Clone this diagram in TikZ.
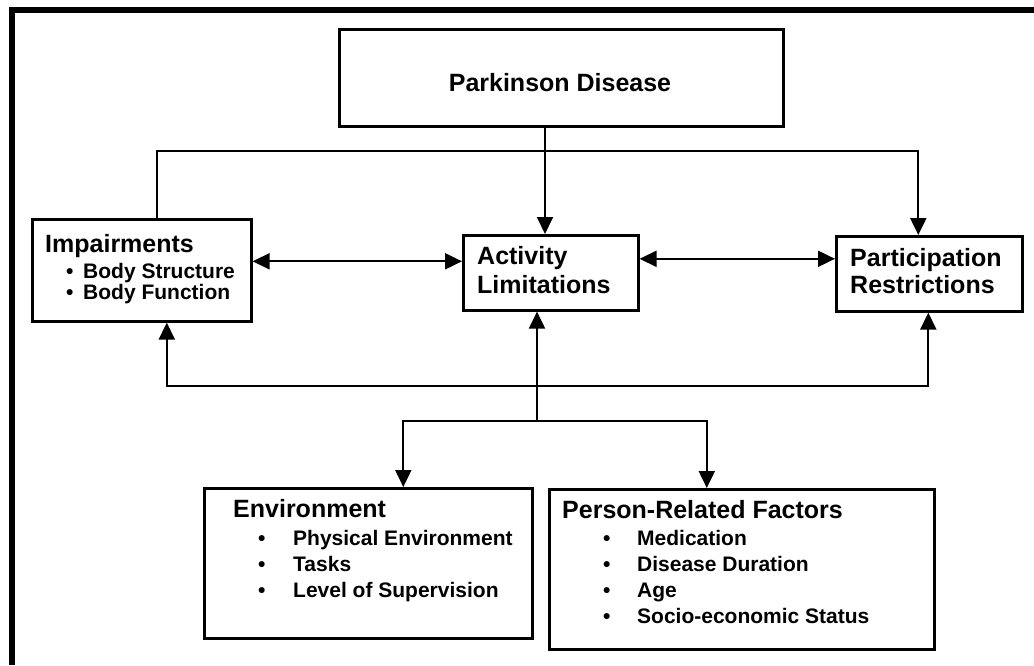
\documentclass[tikz,border=0pt]{standalone}
\usepackage{fontspec}
\setmainfont{Liberation Sans}
\usetikzlibrary{arrows.meta}

\begin{document}
\begin{tikzpicture}[x=1pt,y=-1pt]
    \tikzstyle{box}=[draw, line width=2.6pt, inner sep=0pt, anchor=north west]
    \tikzstyle{hd}=[font=\fontsize{25}{28}\selectfont\bfseries, inner sep=0pt, anchor=base west]
    \tikzstyle{itm}=[font=\fontsize{21}{24}\selectfont\bfseries, inner sep=0pt, anchor=base west]
    \tikzstyle{link}=[line width=2pt]
    \tikzstyle{arr}=[link, -{Triangle[length=17pt,width=16pt]}]
    \tikzstyle{darr}=[link, {Triangle[length=17pt,width=16pt]}-{Triangle[length=17pt,width=16pt]}]
    \useasboundingbox (0,0) rectangle (1034,665);
    % frame
    \draw[line width=6pt] (12,665) -- (12,10) -- (1034,10);
    % boxes
    \node[box, minimum width=444pt, minimum height=97pt] (pd) at (338,28) {};
    \node[box, minimum width=219pt, minimum height=102pt] (im) at (31,218) {};
    \node[box, minimum width=175pt, minimum height=75pt] (al) at (462,234) {};
    \node[box, minimum width=186pt, minimum height=75pt] (pr) at (835,235) {};
    \node[box, minimum width=328pt, minimum height=150pt] (env) at (203,487) {};
    \node[box, minimum width=385pt, minimum height=160pt] (pe) at (548,488) {};
    % texts
    \node[hd, anchor=base] (pdt) at (560,91) {Parkinson Disease};
    \node[hd] (imt) at (45,252) {Impairments};
    \node[itm] (im1) at (66,278) {\makebox[17pt][l]{\textbullet}Body Structure};
    \node[itm] (im2) at (66,299) {\makebox[17pt][l]{\textbullet}Body Function};
    \node[hd] (alt1) at (477,264) {Activity};
    \node[hd] (alt2) at (477,293) {Limitations};
    \node[hd] (prt1) at (850,266) {Participation};
    \node[hd] (prt2) at (850,293) {Restrictions};
    \node[hd] (envt) at (233,517) {Environment};
    \node[itm] (env1) at (258,545) {\makebox[35pt][l]{\textbullet}Physical Environment};
    \node[itm] (env2) at (258,571) {\makebox[35pt][l]{\textbullet}Tasks};
    \node[itm] (env3) at (258,597) {\makebox[35pt][l]{\textbullet}Level of Supervision};
    \node[hd] (pet) at (562,518) {Person-Related Factors};
    \node[itm] (pe1) at (603,545) {\makebox[34pt][l]{\textbullet}Medication};
    \node[itm] (pe2) at (603,571) {\makebox[34pt][l]{\textbullet}Disease Duration};
    \node[itm] (pe3) at (603,597) {\makebox[34pt][l]{\textbullet}Age};
    \node[itm] (pe4) at (603,623) {\makebox[34pt][l]{\textbullet}Socio-economic Status};
    % junctions
    \coordinate (jt) at (545,151);
    \coordinate (jb) at (537,386);
    \coordinate (jl) at (537,421);
    % connectors
    \draw[arr] (pd.south -| jt) -- (al.north -| jt);
    \draw[link] ([xshift=15.5pt]im.north) |- (jt);
    \draw[arr] (jt) -| ([xshift=-11pt]pr.north);
    \draw[darr] ([yshift=9pt]im.east) -- ([yshift=9pt]im.east -| al.west);
    \draw[darr] ([yshift=14pt]al.east) -- ([yshift=14pt]al.east -| pr.west);
    \draw[arr] (jb) -| ([xshift=25pt]im.south);
    \draw[arr] (jb) -| ([xshift=-1pt]pr.south);
    \draw[arr] (jl) -- (al.south -| jl);
    \draw[arr] (jl) -| ([xshift=35pt]env.north);
    \draw[arr] (jl) -| ([xshift=-35pt]pe.north);
\end{tikzpicture}
\end{document}
